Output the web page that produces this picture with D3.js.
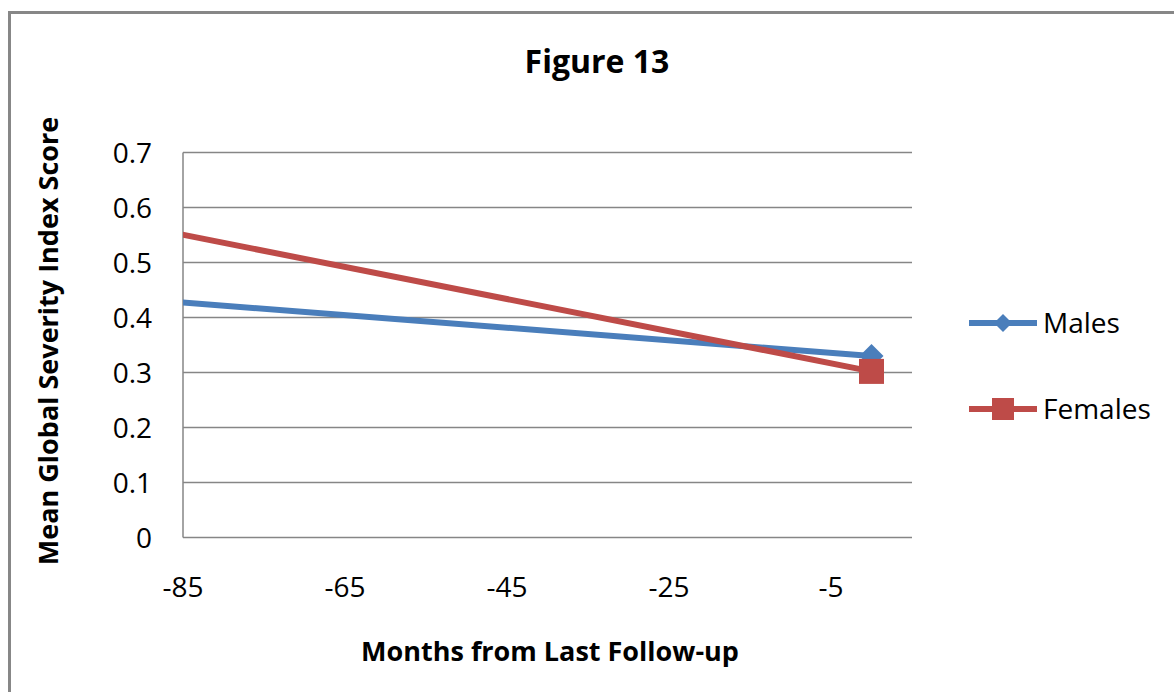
<!DOCTYPE html>
<html><head><meta charset="utf-8">
<script src="https://cdn.jsdelivr.net/npm/d3@7"></script>
<style>html,body{margin:0;padding:0;background:#fff;overflow:hidden}</style>
</head><body>
<svg id="chart" width="1174" height="692"></svg>
<script>
// Data
const months = [-90, 0];
const males = [0.433, 0.33];
const females = [0.565, 0.302];
const seriesNames = ["Males", "Females"];
const xTicks = [-85, -65, -45, -25, -5];
const yTicks = [0, 0.1, 0.2, 0.3, 0.4, 0.5, 0.6, 0.7];
const title = "Figure 13";
const xTitle = "Months from Last Follow-up";
const yTitle = "Mean Global Severity Index Score";

const colors = {Males: "#4A7EBB", Females: "#BE4B48"};
const font = "'Open Sans', 'Liberation Sans', sans-serif";

const svg = d3.select("#chart");
svg.append("rect").attr("x", 9.5).attr("y", 12.5).attr("width", 1200).attr("height", 720)
  .attr("fill", "#fff").attr("stroke", "#878787").attr("stroke-width", 3);

const L = 183, R = 912, T = 152.5, B = 537.5;
const x = d3.scaleLinear().domain([-85, 5]).range([L, R]);
const y = d3.scaleLinear().domain([0, 0.7]).range([B, T]);

// gridlines
svg.append("g").selectAll("line").data(yTicks).join("line")
  .attr("x1", L).attr("x2", R).attr("y1", d => y(d)).attr("y2", d => y(d))
  .attr("stroke", "#868686").attr("stroke-width", 1.5);
svg.append("line").attr("x1", L).attr("x2", L).attr("y1", T).attr("y2", B)
  .attr("stroke", "#868686").attr("stroke-width", 1.5);

// y tick labels
svg.append("g").selectAll("text").data(yTicks).join("text")
  .attr("x", 152).attr("y", d => y(d)).attr("dy", "0.36em")
  .attr("text-anchor", "end").attr("font-family", font).attr("font-size", 28)
  .attr("fill", "#000").text(d => d === 0 ? "0" : d3.format(".1f")(d));

// x tick labels
svg.append("g").selectAll("text").data(xTicks).join("text")
  .attr("x", d => x(d)).attr("y", 597)
  .attr("text-anchor", "middle").attr("font-family", font).attr("font-size", 28)
  .attr("fill", "#000").text(d => String(d));

// titles
svg.append("text").attr("x", 597).attr("y", 73).attr("text-anchor", "middle")
  .attr("font-family", font).attr("font-weight", "bold").attr("font-size", 32).text(title);
svg.append("text").attr("x", 550).attr("y", 661).attr("text-anchor", "middle")
  .attr("font-family", font).attr("font-weight", "bold").attr("font-size", 27).text(xTitle);
svg.append("text").attr("transform", "translate(58,341) rotate(-90)").attr("text-anchor", "middle")
  .attr("font-family", font).attr("font-weight", "bold").attr("font-size", 27).text(yTitle);

// clip
svg.append("defs").append("clipPath").attr("id", "clip")
  .append("rect").attr("x", L).attr("y", 0).attr("width", 1174 - L).attr("height", 692);

const seriesData = [
  {name: "Males", values: months.map((m, i) => ({m, v: males[i]}))},
  {name: "Females", values: months.map((m, i) => ({m, v: females[i]}))}
];
const line = d3.line().x(d => x(d.m)).y(d => y(d.v));
const g = svg.append("g").attr("clip-path", "url(#clip)");
seriesData.forEach(s => {
  g.append("path").datum(s.values).attr("d", line).attr("fill", "none")
    .attr("stroke", colors[s.name]).attr("stroke-width", 6).attr("stroke-linecap", "butt");
});
function marker(sel, name, cx, cy, big) {
  if (name === "Males") {
    const h = big ? 12 : 9;
    sel.append("path").attr("d", `M${cx},${cy - h}L${cx + h},${cy}L${cx},${cy + h}L${cx - h},${cy}Z`)
      .attr("fill", colors[name]);
  } else {
    const h = big ? 12.5 : 11;
    sel.append("rect").attr("x", cx - h).attr("y", cy - h).attr("width", 2 * h).attr("height", 2 * h)
      .attr("fill", colors[name]);
  }
}
seriesData.forEach(s => {
  s.values.filter(d => d.m >= -85 && d.m <= 5).forEach(d => marker(g, s.name, x(d.m), y(d.v), true));
});

// legend
const legY = [323, 409];
seriesNames.forEach((n, i) => {
  svg.append("line").attr("x1", 969).attr("x2", 1037).attr("y1", legY[i]).attr("y2", legY[i])
    .attr("stroke", colors[n]).attr("stroke-width", 6);
  marker(svg, n, 1003, legY[i], false);
  svg.append("text").attr("x", 1043).attr("y", legY[i]).attr("dy", "0.36em")
    .attr("font-family", font).attr("font-size", 28).text(n);
});
</script>
</body></html>
